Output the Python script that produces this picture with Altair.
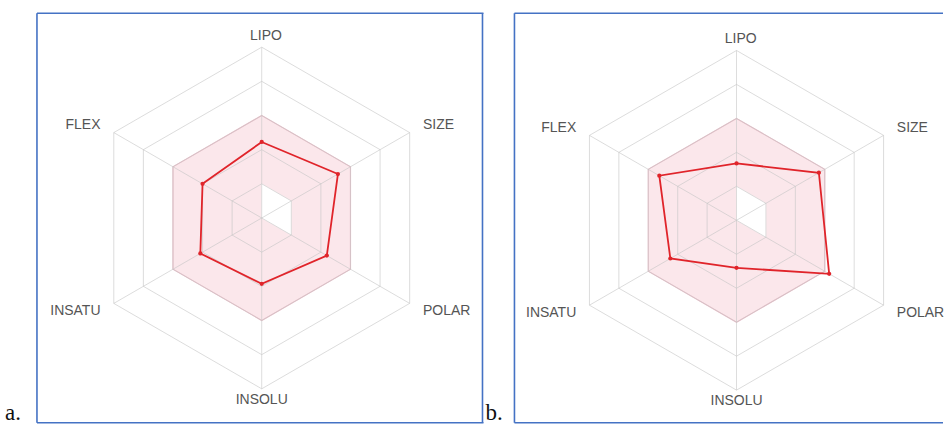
import math

import altair as alt
import pandas as pd

# Radar axes, clockwise from the top
AXES = ["LIPO", "SIZE", "POLAR", "INSOLU", "INSATU", "FLEX"]

# Normalised property scores (0 = centre, 1 = outer ring)
VALUES_A = [0.445, 0.515, 0.44, 0.385, 0.415, 0.40]
VALUES_B = [0.335, 0.56, 0.63, 0.28, 0.45, 0.525]

# Optimal range of each property (pink zone)
RANGE_LOW = [0.2, 0.2, 0.2, 0.0, 0.0, 0.0]
RANGE_HIGH = [0.6, 0.6, 0.6, 0.6, 0.6, 0.6]

# Grid rings
RINGS = [0.2, 0.4, 0.6, 0.8, 1.0]

PANEL_LABELS = ["a.", "b."]

BLUE = "#4472c4"
RED = "#e0242a"
GRID = "#c4c4c4"
TEXT = "#555555"

ANGLES = [math.radians(90 - 60 * i) for i in range(len(AXES))]


def polygon(values, group):
    return pd.DataFrame(
        {
            "k": list(range(len(values))),
            "x": [v * math.cos(a) for v, a in zip(values, ANGLES)],
            "y": [v * math.sin(a) for v, a in zip(values, ANGLES)],
            "g": [group] * len(values),
        }
    )


def frame_edge(**enc):
    return (
        alt.Chart(pd.DataFrame({"e": [0]}))
        .mark_rule(color=BLUE, strokeWidth=1.6)
        .encode(**enc)
    )


def radar_panel(values, cx, cy, w, h, radius, right_edge=True):
    xs = alt.Scale(domain=[-cx / radius, (w - cx) / radius], nice=False, zero=False)
    ys = alt.Scale(domain=[-(h - cy) / radius, cy / radius], nice=False, zero=False)

    def X(field):
        return alt.X(field, type="quantitative", scale=xs, axis=None)

    def Y(field):
        return alt.Y(field, type="quantitative", scale=ys, axis=None)

    # optimal zone: pink outer hexagon with the white lower-bound region on top
    zone_hi = (
        alt.Chart(polygon(RANGE_HIGH, "hi"))
        .mark_line(interpolate="linear-closed", fill="#fbe7eb", stroke="#efbfca", strokeWidth=1.2)
        .encode(x=X("x"), y=Y("y"), order="k:O")
    )
    zone_lo = (
        alt.Chart(polygon(RANGE_LOW, "lo"))
        .mark_line(interpolate="linear-closed", fill="#ffffff", stroke="#ffffff", strokeWidth=0.5)
        .encode(x=X("x"), y=Y("y"), order="k:O")
    )

    rings = pd.concat([polygon([r] * len(AXES), r) for r in RINGS], ignore_index=True)
    grid = (
        alt.Chart(rings)
        .mark_line(interpolate="linear-closed", color=GRID, strokeWidth=1, opacity=0.6)
        .encode(x=X("x"), y=Y("y"), order="k:O", detail="g:N")
    )

    spokes_df = pd.DataFrame(
        {
            "x0": [0.0] * len(AXES),
            "y0": [0.0] * len(AXES),
            "x1": [math.cos(a) for a in ANGLES],
            "y1": [math.sin(a) for a in ANGLES],
        }
    )
    spokes = (
        alt.Chart(spokes_df)
        .mark_rule(color=GRID, strokeWidth=1, opacity=0.6)
        .encode(x=X("x0"), y=Y("y0"), x2="x1", y2="y1")
    )

    data_df = polygon(values, "v")
    line = (
        alt.Chart(data_df)
        .mark_line(interpolate="linear-closed", color=RED, strokeWidth=1.8)
        .encode(x=X("x"), y=Y("y"), order="k:O")
    )
    dots = (
        alt.Chart(data_df)
        .mark_circle(color=RED, size=18, opacity=1)
        .encode(x=X("x"), y=Y("y"))
    )

    # axis names: centred at top/bottom, pushed outwards at the sides
    side_r, end_r = 1.09, 1.065
    rows = []
    for name, a in zip(AXES, ANGLES):
        c = math.cos(a)
        if abs(c) < 1e-6:
            side = "center"
            lx, ly = (0.025 if math.sin(a) > 0 else 0.0), end_r * math.sin(a)
        else:
            side = "left" if c > 0 else "right"
            lx, ly = side_r * c, side_r * math.sin(a)
        rows.append({"name": name, "x": lx, "y": ly, "side": side})
    labels_df = pd.DataFrame(rows)
    label_layers = [
        alt.Chart(labels_df[labels_df["side"] == side])
        .mark_text(align=side, baseline="middle", font="Liberation Sans", fontSize=14, color=TEXT)
        .encode(x=X("x"), y=Y("y"), text="name:N")
        for side in ["center", "left", "right"]
    ]

    edges = [
        frame_edge(x=alt.value(0), x2=alt.value(w + 1), y=alt.value(0)),
        frame_edge(x=alt.value(0), x2=alt.value(w + 1), y=alt.value(h)),
        frame_edge(x=alt.value(0), y=alt.value(0), y2=alt.value(h)),
    ]
    if right_edge:
        edges.append(frame_edge(x=alt.value(w), y=alt.value(0), y2=alt.value(h)))

    return alt.layer(
        zone_hi, zone_lo, grid, spokes, line, dots, *label_layers, *edges
    ).properties(width=w, height=h)


def panel_label(text, x, w, h):
    return (
        alt.Chart(pd.DataFrame({"t": [text]}))
        .mark_text(align="left", baseline="alphabetic", font="Liberation Serif", fontSize=23, color="#111111")
        .encode(x=alt.value(x), y=alt.value(h - 3), text="t:N")
        .properties(width=w, height=h)
    )


H = 410
chart = (
    alt.hconcat(
        panel_label(PANEL_LABELS[0], 5, 37, H),
        radar_panel(VALUES_A, 225, 205, 446, H, 171),
        panel_label(PANEL_LABELS[1], 3, 32, H),
        radar_panel(VALUES_B, 222.3, 207.3, 428, H, 170, right_edge=False),
        spacing=0,
        bounds="flush",
    )
    .properties(padding={"left": 0, "right": 0, "top": 12, "bottom": 0}, background="white")
    .configure_view(strokeWidth=0)
)

chart.save("out.html", embed_options={"renderer": "svg", "actions": False})
